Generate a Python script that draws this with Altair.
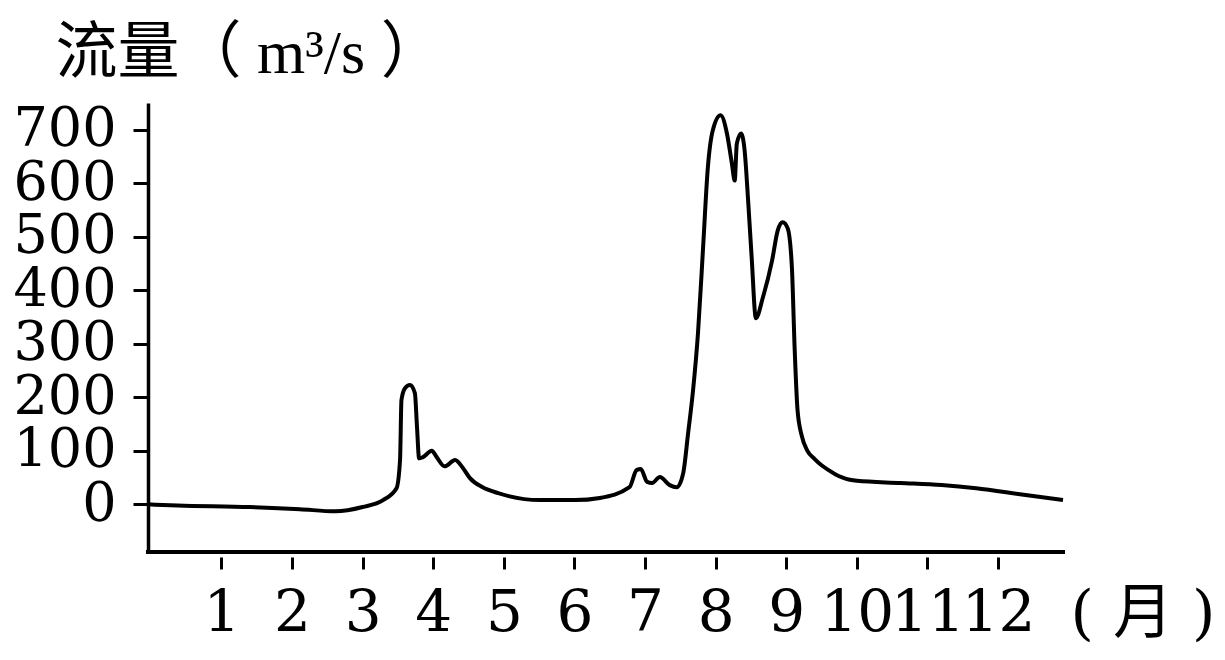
import altair as alt
import pandas as pd

# Data
months = [-0.04, 0.38, 1.4, 2.11, 2.61, 3.0, 3.29, 3.48, 3.53, 3.55,
          3.6, 3.67, 3.74, 3.77, 3.8, 3.85, 3.98, 4.05, 4.16, 4.31,
          4.42, 4.52, 4.7, 4.92, 5.51, 6.01, 6.36, 6.78, 6.88, 6.94,
          7.03, 7.1, 7.21, 7.35, 7.45, 7.54, 7.61, 7.68, 7.75, 7.82,
          7.89, 7.96, 8.07, 8.16, 8.23, 8.27, 8.3, 8.36, 8.41, 8.46,
          8.51, 8.57, 8.67, 8.8, 8.88, 8.95, 9.02, 9.08, 9.12, 9.16,
          9.22, 9.3, 9.4, 9.5, 9.6, 9.7, 9.8, 9.9, 10.0, 10.62,
          11.2, 11.69, 12.31, 12.92]
flow = [0, -2, -5, -9, -13, -5, 8, 30, 83, 195,
        217, 223, 208, 145, 86, 88, 100, 88, 71, 83,
        68, 49, 32, 21, 8, 8, 12, 32, 64, 66,
        42, 40, 51, 36, 32, 58, 133, 213, 320, 475,
        630, 699, 727, 693, 637, 605, 674, 693, 662, 568,
        462, 348, 387, 456, 512, 527, 516, 443, 288, 176,
        128, 100, 85, 73, 64, 56, 50, 46, 44, 40,
        36, 30, 19, 8]

x_ticks = list(range(1, 13))
y_ticks = [0, 100, 200, 300, 400, 500, 600, 700]
x_domain = [-0.04, 12.92]
y_domain = [-89, 750]

y_title = "流量（ m³/s ）"
x_title = "( 月 )"

df = pd.DataFrame({"month": months, "flow": flow})

W, H = 915, 449
NUM_FONT = "DejaVu Serif"
CJK_FONT = "Noto Sans CJK SC"

x_enc = alt.X(
    "month:Q",
    scale=alt.Scale(domain=x_domain, nice=False, zero=False),
    axis=alt.Axis(
        values=x_ticks, domain=False, grid=False, offset=5,
        tickSize=12, tickWidth=3, tickColor="black",
        labelFont=NUM_FONT, labelFontSize=58, labelColor="black",
        labelPadding=15, labelOverlap=False, labelFlush=False, labelBound=False,
        title=x_title, titleFont=NUM_FONT + ", " + CJK_FONT, titleFontSize=60,
        titleFontWeight="normal", titleColor="black",
        titleX=922, titleY=75, titleAlign="left", titleBaseline="alphabetic",
        titleAnchor="start",
    ),
)
y_enc = alt.Y(
    "flow:Q",
    scale=alt.Scale(domain=y_domain, nice=False, zero=False),
    axis=alt.Axis(
        values=y_ticks, grid=False,
        domainColor="black", domainWidth=3.5,
        tickSize=15, tickWidth=3, tickColor="black",
        labelFont=NUM_FONT, labelFontSize=54, labelColor="black",
        labelPadding=17, labelOverlap=False, labelFlush=False, labelBound=False,
        labelBaseline="middle",
        title=y_title, titleFont="Liberation Serif, " + CJK_FONT, titleFontSize=62,
        titleFontWeight="normal", titleColor="black", titleAngle=0,
        titleX=-93, titleY=-31, titleAlign="left", titleBaseline="alphabetic",
        titleAnchor="start",
    ),
)

line = alt.Chart(df).mark_line(
    color="black", strokeWidth=4, interpolate="monotone", clip=False
).encode(x=x_enc, y=y_enc)

xaxis_line = alt.Chart(df).mark_rule(
    color="black", strokeWidth=3.5, strokeCap="square"
).encode(x=alt.value(0), x2=alt.value(W), y=alt.value(H))

chart = alt.layer(line, xaxis_line).properties(
    width=W, height=H,
    background="white",
    autosize=alt.AutoSizeParams(type="none"),
    padding={"left": 140, "top": 95, "right": 154, "bottom": 96},
).configure_view(stroke=None, strokeWidth=0)

chart.save("out.html", embed_options={"renderer": "svg", "actions": False})
